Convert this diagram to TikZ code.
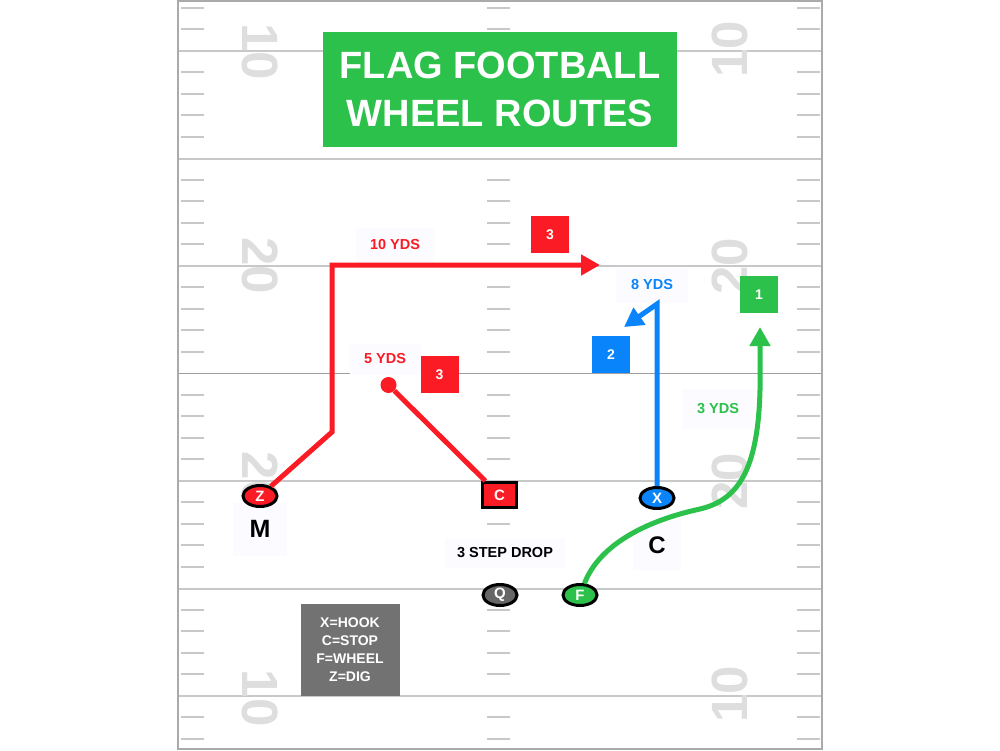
\documentclass[tikz,border=0pt]{standalone}
\usepackage{fontspec}
\setmainfont{Liberation Sans}
\usetikzlibrary{shapes.geometric,arrows.meta}
\definecolor{fgreen}{RGB}{43,193,74}
\definecolor{fred}{RGB}{250,27,36}
\definecolor{fblue}{RGB}{10,132,250}
\definecolor{fgray}{RGB}{114,114,114}
\definecolor{qgray}{RGB}{102,102,102}
\definecolor{numgray}{RGB}{222,222,222}
\definecolor{linegray}{RGB}{200,200,200}
\definecolor{bordergray}{RGB}{170,170,170}
\definecolor{ydsbg}{RGB}{252,251,255}

\begin{document}
\begin{tikzpicture}[x=1pt,y=-1pt,
  player/.style={ellipse,draw=black,line width=3pt,minimum width=34pt,minimum height=21pt,inner sep=0pt,text=white,font=\bfseries\fontsize{15}{15}\selectfont},
  numbox/.style={minimum width=38pt,minimum height=37pt,inner sep=0pt,text=white,font=\bfseries\fontsize{14}{14}\selectfont},
  ydslabel/.style={fill=ydsbg,inner sep=0pt,font=\bfseries\fontsize{14.5}{14.5}\selectfont},
  yardnum/.style={text=numgray,inner sep=0pt,font=\bfseries\fontsize{51}{51}\selectfont},
  arrowroute/.style={line width=5pt,-{Triangle[length=19pt,width=20pt]}}]
\useasboundingbox (0,0) rectangle (1000,750);
\fill[white] (0,0) rectangle (1000,750);
\foreach \n in {0,...,34} {
  \pgfmathtruncatemacro\r{mod(\n,5)}
  \pgfmathsetmacro\y{7.5+21.5*\n}
  \ifnum\r=2\else
    \draw[linegray,line width=2pt] (181,\y) -- (204,\y) (487,\y) -- (510,\y) (797,\y) -- (820,\y);
  \fi
}
\foreach \y in {51,158.5,266,481,588.5,696}
  \draw[linegray,line width=2pt] (178,\y) -- (822,\y);
\draw[gray!75,line width=1.2pt] (178,373.5) -- (822,373.5);
\draw[bordergray,line width=2pt] (178,1) rectangle (822,749);
\node[yardnum,rotate=-90] (num10a) at (260,52) {10};
\node[yardnum,rotate=-90] (num20a) at (260,266) {20};
\node[yardnum,rotate=-90] (num20b) at (260,480) {20};
\node[yardnum,rotate=-90] (num10b) at (260,698) {10};
\node[yardnum,rotate=90] (num10c) at (730,49) {10};
\node[yardnum,rotate=90] (num20c) at (730,266) {20};
\node[yardnum,rotate=90] (num20d) at (730,481) {20};
\node[yardnum,rotate=90] (num10d) at (730,694) {10};

\node[fill=fgreen,minimum width=354pt,minimum height=115pt,text=white,align=center,font=\bfseries\fontsize{38}{48}\selectfont] (title) at (500,89.5) {FLAG FOOTBALL\\WHEEL ROUTES};

\node[ydslabel,text=fred,minimum width=78pt,minimum height=35pt] (yds10) at (395,245) {10 YDS};
\node[ydslabel,text=fred,minimum width=71pt,minimum height=31pt] (yds5) at (385,359) {5 YDS};
\node[ydslabel,text=fblue,minimum width=72pt,minimum height=35pt] (yds8) at (652,285) {8 YDS};
\node[ydslabel,text=fgreen,minimum width=72pt,minimum height=40pt] (yds3) at (718,409) {3 YDS};
\node[ydslabel,minimum width=120pt,minimum height=30pt] (drop) at (505,553) {3 STEP DROP};
\node[ydslabel,minimum width=54pt,minimum height=53pt,font=\bfseries\fontsize{25}{25}\selectfont] (mlabel) at (260,529) {M};
\node[ydslabel,minimum width=48pt,minimum height=50pt,font=\bfseries\fontsize{24}{24}\selectfont] (clabel) at (657,545) {C};

\node[numbox,fill=fred] (read3a) at (550,234.5) {3};
\node[numbox,fill=fred] (read3b) at (439.5,374.5) {3};
\node[numbox,fill=fblue] (read2) at (611,354.5) {2};
\node[numbox,fill=fgreen] (read1) at (759,294.5) {1};

\node[fill=fgray,minimum width=99pt,minimum height=92pt,text=white,align=center,font=\bfseries\fontsize{14}{18}\selectfont] (legend) at (350,650) {X=HOOK\\C=STOP\\F=WHEEL\\Z=DIG};

\node[player,fill=fred] (Z) at (260,496) {Z};
\node[player,fill=qgray] (Q) at (500,595) {Q};
\node[player,fill=fgreen] (F) at (580,595) {F};
\node[player,fill=fblue] (X) at (657,498) {X};
\node[draw=black,line width=3pt,fill=fred,minimum width=34pt,minimum height=25pt,inner sep=0pt,text=white,font=\bfseries\fontsize{15}{15}\selectfont] (C) at (499.5,495) {C};
\node[circle,fill=fred,minimum size=16pt,inner sep=0pt] (cdot) at (388.5,385) {};

\draw[fred,line width=5pt] (cdot) -- (C);
\draw[arrowroute,fred] (Z) -- (332,432) -- (332,265) -- (600,265);
\draw[arrowroute,fblue] (X) -- (657,304) -- (624,327);
\draw[arrowroute,fgreen] (F) .. controls (598,548) and (640,522) .. (700,509) .. controls (738,500) and (758,470) .. (760,390) -- (760,327);
\end{tikzpicture}
\end{document}
